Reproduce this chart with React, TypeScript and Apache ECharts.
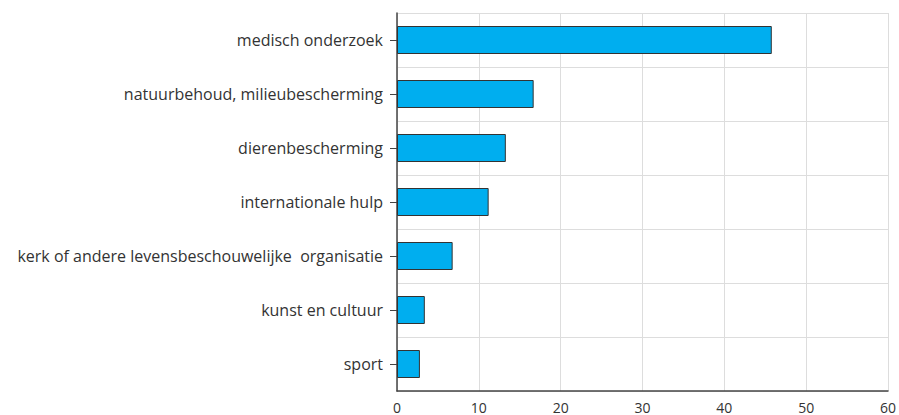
import React, { useEffect, useRef } from "react";
import * as echarts from "echarts";

const categories = [
  "medisch onderzoek",
  "natuurbehoud, milieubescherming",
  "dierenbescherming",
  "internationale hulp",
  "kerk of andere levensbeschouwelijke  organisatie",
  "kunst en cultuur",
  "sport",
];
const values = [45.8, 16.7, 13.3, 11.2, 6.8, 3.4, 2.8];
const xTicks = { min: 0, max: 60, interval: 10 };

export default function App() {
  const ref = useRef<HTMLDivElement>(null);
  useEffect(() => {
    const chart = echarts.init(ref.current!, null, { renderer: "svg" });
    chart.setOption({
      animation: false,
      grid: { left: 397, right: 10, top: 13, bottom: 24, containLabel: false },
      xAxis: {
        type: "value",
        min: xTicks.min,
        max: xTicks.max,
        interval: xTicks.interval,
        axisLine: { show: true, lineStyle: { color: "#444", width: 1.5 } },
        axisTick: { show: false },
        axisLabel: { color: "#333", fontSize: 14, fontFamily: "Open Sans", margin: 9 },
        splitLine: { show: true, lineStyle: { color: "#ddd", width: 1 } },
      },
      yAxis: {
        type: "category",
        data: categories,
        inverse: true,
        axisLine: { show: true, lineStyle: { color: "#444", width: 1.5 } },
        axisTick: { show: true, length: 7, alignWithLabel: true, lineStyle: { color: "#444" } },
        axisLabel: { color: "#333", fontSize: 16, fontFamily: "Open Sans", margin: 14 },
        splitLine: { show: true, lineStyle: { color: "#ddd", width: 1 } },
      },
      series: [
        {
          type: "bar",
          data: values,
          barWidth: 28,
          itemStyle: { color: "#00aeef", borderColor: "#333", borderWidth: 1 },
        },
      ],
    });
    return () => chart.dispose();
  }, []);
  return <div ref={ref} style={{ width: 899, height: 415, position: "absolute", left: 0, top: 0 }} />;
}
